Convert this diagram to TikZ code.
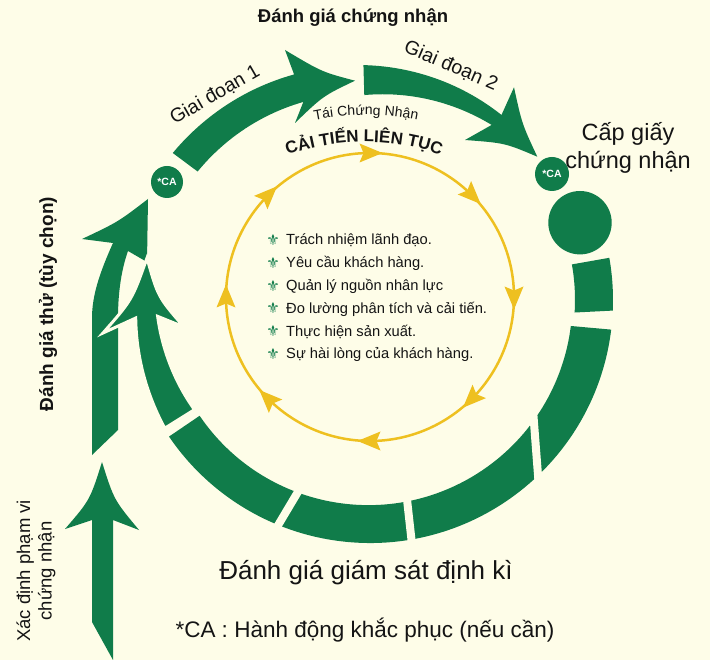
\documentclass[tikz,border=0pt]{standalone}
\usepackage{fontspec}
\setmainfont{Liberation Sans}
\newfontfamily\symf{DejaVu Sans}
\usetikzlibrary{decorations.text}
\definecolor{bg}{RGB}{254,253,232}
\definecolor{gr}{RGB}{16,124,74}
\definecolor{yel}{RGB}{238,192,32}
\definecolor{ink}{RGB}{20,20,20}
\begin{document}
\begin{tikzpicture}[x=1pt,y=-1pt,
  txt/.style={text=ink, inner sep=0pt},
  fsz/.style={font=\fontsize{#1}{#1}\selectfont},
  bfsz/.style={font=\bfseries\fontsize{#1}{#1}\selectfont},
  cacirc/.style={circle, fill=gr, text=white, minimum size=#1, inner sep=0pt, font=\bfseries\fontsize{10.5}{12}\selectfont},
  gap/.style={draw=bg, line width=8pt},
  yarrow/.style={fill=yel}]
\fill[bg] (0,0) rectangle (710,660);
\useasboundingbox (0,0) rectangle (710,660);

% --- outer left arrow (Danh gia thu)
\fill[gr] (148,199) .. controls (118,222) .. (82,239) -- (113,243)
  .. controls (100,272) and (92,295) .. (92,318) -- (92,455) -- (118,430) -- (118,318)
  .. controls (118,290) and (122,268) .. (128,251) -- (147,262) -- cycle;

% --- bottom arrow (Xac dinh pham vi)
\fill[gr] (102,462) .. controls (114,500) .. (139,530) -- (113,520) -- (113,660) -- (92,622)
  -- (92,520) -- (65,529) .. controls (90,500) .. (102,462) -- cycle;

\begin{scope}[shift={(370,300)}]
  % ring segments B..E
  \fill[gr] (7:243) arc[start angle=7, end angle=145.8, radius=243]
    -- (145.8:206) arc[start angle=145.8, end angle=7, radius=204] -- cycle;
  \draw[gap] (110:194) -- (112.5:252);
  \draw[gap] (79.3:194) -- (80.3:252);
  \draw[gap] (163.4,115) -- (168.6,183);
  % ring segment A with arrowhead
  \filldraw[gr, draw=bg, line width=3pt]
    plot[domain=148:175.6, samples=25] (\x:{242-7*(\x-148)/27.6})
    -- (-267,33) .. controls (-238,0) .. (-223,-42)
    .. controls (-212,-3) .. (-186,27)
    -- plot[domain=175.6:148, samples=25] (\x:{207+6*(\x-148)/27.6}) -- cycle;
  % segment F
  \fill[gr] (-10:205) -- (-10:243) arc[start angle=-10, end angle=2.5, radius=243]
    -- (3.5:205) arc[start angle=3.5, end angle=-10, radius=205] -- cycle;
  % Giai doan 1 arrow
  \fill[gr] plot[domain=216.7:251.4, samples=25] (\x:{246-8*(\x-216.7)/34.7})
    -- (-85,-250) .. controls (-48,-228) .. (-15,-219.3)
    .. controls (-47,-204) .. (-75,-177)
    -- plot[domain=251.4:216.7, samples=25] (\x:{215-6*(\x-216.7)/34.7}) -- cycle;
  % Giai doan 2 arrow (tapering neck)
  \fill[gr] plot[domain=268.4:305.4, samples=30] (\x:{235-8*(\x-268.4)/37})
    -- (144,-212.7) .. controls (152,-176) .. (167.3,-143.3)
    .. controls (135,-157) .. (95,-160)
    -- plot[domain=304.8:268.4, samples=30] (\x:{205+8.2*(\x-268.4)/36.4}) -- cycle;
\end{scope}

% big dot
\fill[gr] (580,222.7) circle (31.7);

% CA circles
\node[cacirc=32pt] (ca1) at (167,182) {*CA};
\node[cacirc=34pt] (ca2) at (552,174) {*CA};

% yellow cycle
\draw[yel, line width=2.5pt] (370,297) circle (144);
\foreach \a in {0,45,...,315}
  \fill[yarrow, shift={(370,297)}, rotate=\a] (144,12.5) -- (134.5,-10.5) -- (144,-6.5) -- (153.5,-10.5) -- cycle;

% curved titles
\path[decorate, decoration={text along path, text align=center, text color=ink,
   text={|\fontsize{14}{14}\selectfont|Tái Chứng Nhận}}]
   (366,375) ++(235:260) arc[start angle=235, end angle=305, radius=260];
\path[decorate, decoration={text along path, text align=center, text color=ink,
   text={|\bfseries\fontsize{17}{17}\selectfont|CẢI TIẾN LIÊN TỤC}}]
   (364,377) ++(230:235) arc[start angle=230, end angle=310, radius=235];

% list
\foreach \t [count=\i] in {Trách nhiệm lãnh đạo., Yêu cầu khách hàng., Quản lý nguồn nhân lực, Đo lường phân tích và cải tiến., Thực hiện sản xuất., Sự hài lòng của khách hàng.} {
  \node[txt, fsz=14.7, anchor=base west] (item\i) at (286, {245+22.8*(\i-1)}) {\t};
  \node[text=gr, inner sep=0pt, anchor=base, font=\symf\fontsize{15}{15}\selectfont] (bul\i) at (273, {245.5+22.8*(\i-1)}) {⚜};
}

% labels
\node[txt, bfsz=18.5] (top) at (353,18) {Đánh giá chứng nhận};
\node[txt, fsz=19.5, rotate=30] (g1) at (215,95) {Giai đoạn 1};
\node[txt, fsz=19.5, rotate=-23] (g2) at (451,66) {Giai đoạn 2};
\node[txt, align=center, font=\fontsize{23.5}{28}\selectfont] (cap) at (628,148) {Cấp giấy\\chứng nhận};
\node[txt, bfsz=19, rotate=90] (thu) at (48,304) {Đánh giá thử (tùy chọn)};
\node[txt, align=center, font=\fontsize{18.5}{21.5}\selectfont, rotate=90] (xac) at (36,571) {Xác định phạm vi\\chứng nhận};
\node[txt, fsz=26, anchor=base] (gs) at (366,579) {Đánh giá giám sát định kì};
\node[txt, fsz=22.5, anchor=base] (ca) at (365,637) {*CA : Hành động khắc phục (nếu cần)};
\end{tikzpicture}
\end{document}
